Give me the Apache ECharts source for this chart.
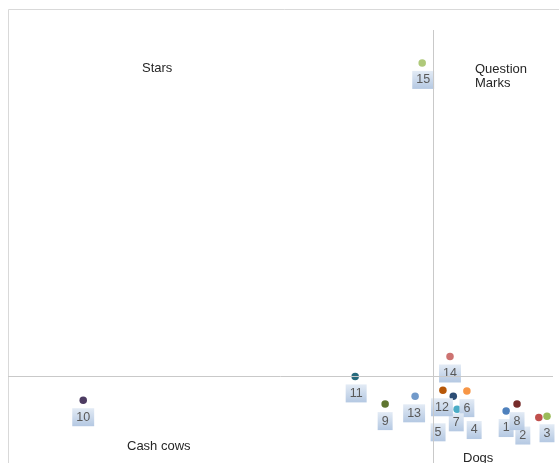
<!DOCTYPE html>
<html>
<head>
<meta charset="utf-8">
<script src="https://cdn.jsdelivr.net/npm/echarts@6/dist/echarts.min.js"></script>
<style>html,body{margin:0;padding:0;background:#fff;}#c{width:559px;height:463px;}</style>
</head>
<body>
<div id="c"></div>
<script>
// Data
const names   = ['1','2','3','4','5','6','7','8','9','10','11','12','13','14','15'];
const shareX  = [91.4, 97.4, 98.9, 84.8, 82.4, 84.2, 81.7, 93.4, 69.2, 13.8, 63.7, 79.8, 74.7, 81.1, 76.0];
const growthY = [12.0, 10.5, 10.8, 12.0, 12.4, 16.6, 15.4, 13.6, 13.6, 14.5, 20.0, 16.8, 15.4, 24.6, 92.4];
const dividerX = 78;
const dividerY = 20;
const quadrantNames = ['Stars', 'Question\nMarks', 'Cash cows', 'Dogs'];

// Styles
const colors = ['#4F81BD','#C0504D','#9BBB59','#8064A2','#4BACC6','#F79646','#2C4D75','#772C2A',
                '#5F7530','#4D3B62','#276A7C','#B65708','#729ACA','#CD7371','#AFC97A'];
const labelShift = [[0,0],[-16,1],[0,0],[4,2],[-19,6],[0,0],[3,9],[0,0],[0,0],[0,0],[1,0],[-1,0],[-1,0],[0,0],[1,0]];

const chart = echarts.init(document.getElementById('c'), null, {renderer:'canvas'});
const lineColor = '#c9c9c9';
const data = names.map((n,i)=>({
  name:n, value:[shareX[i], growthY[i]],
  itemStyle:{color:colors[i], opacity:1},
  label:{offset:[labelShift[i][0], 17 + labelShift[i][1]]}
}));
const tf = '13px "Liberation Sans", Arial, sans-serif';
chart.setOption({
  animation:false,
  backgroundColor:'#fff',
  grid:{left:8, width:545, top:30, height:437},
  xAxis:{type:'value', min:0, max:100, show:false},
  yAxis:{type:'value', min:0, max:100, show:false},
  graphic:[
    {type:'line', shape:{x1:8.5,y1:9.5,x2:570,y2:9.5}, style:{stroke:'#d9d9d9', lineWidth:1}, z:-1},
    {type:'line', shape:{x1:8.5,y1:9.5,x2:8.5,y2:470}, style:{stroke:'#d9d9d9', lineWidth:1}, z:-1},
    {type:'text', left:142, top:62, style:{text:quadrantNames[0], font:tf, fill:'#262626'}},
    {type:'text', left:475, top:62, style:{text:quadrantNames[1], font:tf, fill:'#262626', lineHeight:14}},
    {type:'text', left:127, top:440, style:{text:quadrantNames[2], font:tf, fill:'#262626'}},
    {type:'text', left:463, top:452, style:{text:quadrantNames[3], font:tf, fill:'#262626'}}
  ],
  series:[{
    type:'scatter',
    symbolSize:7.5,
    data:data,
    z:3,
    label:{
      show:true, position:'inside',
      formatter:p=>p.name,
      color:'#595959',
      fontSize:12.5,
      fontFamily:'"Liberation Sans", Arial, sans-serif',
      padding:[3,4,2,4],
      backgroundColor:new echarts.graphic.LinearGradient(0,0,0,1,[{offset:0,color:'#e3ebf5'},{offset:1,color:'#b4c8e2'}])
    },
    markLine:{
      silent:true, symbol:'none', animation:false,
      label:{show:false},
      lineStyle:{color:lineColor, width:1, type:'solid'},
      data:[{xAxis:dividerX},{yAxis:dividerY}]
    }
  }]
});
</script>
</body>
</html>
